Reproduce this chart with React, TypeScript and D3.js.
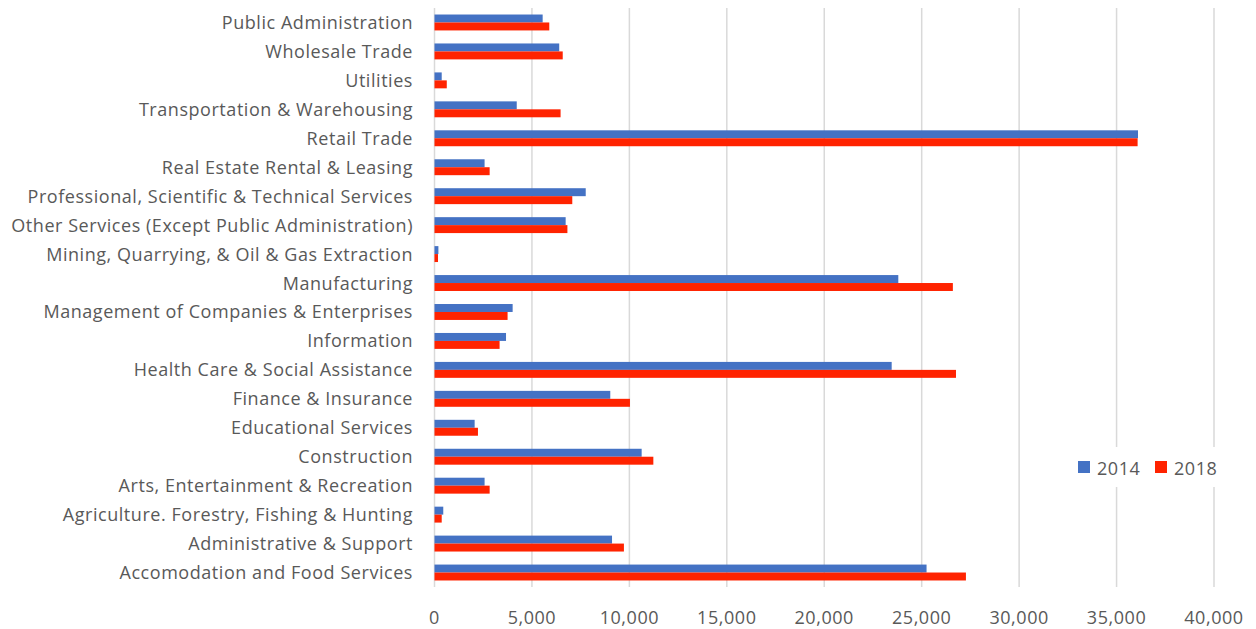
import React from "react";
import * as d3 from "d3";

const categories = [
  "Public Administration",
  "Wholesale Trade",
  "Utilities",
  "Transportation & Warehousing",
  "Retail Trade",
  "Real Estate Rental & Leasing",
  "Professional, Scientific & Technical Services",
  "Other Services (Except Public Administration)",
  "Mining, Quarrying, & Oil & Gas Extraction",
  "Manufacturing",
  "Management of Companies & Enterprises",
  "Information",
  "Health Care & Social Assistance",
  "Finance & Insurance",
  "Educational Services",
  "Construction",
  "Arts, Entertainment & Recreation",
  "Agriculture. Forestry, Fishing & Hunting",
  "Administrative & Support",
  "Accomodation and Food Services",
];

const values2014 = [
  5550, 6400, 370, 4220, 36100, 2570, 7760, 6730, 200, 23800, 4010, 3670, 23460,
  9020, 2060, 10630, 2570, 450, 9110, 25250,
];
const values2018 = [
  5890, 6580, 630, 6470, 36080, 2830, 7070, 6820, 180, 26600, 3750, 3340, 26760,
  10030, 2230, 11230, 2830, 370, 9720, 27270,
];

const seriesNames = ["2014", "2018"];
const seriesColors = ["#4472C4", "#FF2300"];
const xTicks = [0, 5000, 10000, 15000, 20000, 25000, 30000, 35000, 40000];

const W = 1256;
const H = 629;
const FONT = "'Open Sans', Lato, sans-serif";
const TEXT = "#595959";
const FS = 18;
const LS = 0.55;

export default function App() {
  const x = d3.scaleLinear().domain([0, 40000]).range([434.5, 1214]);
  const y = d3
    .scaleBand<string>()
    .domain(categories)
    .range([8, 587])
    .paddingInner(0.45)
    .paddingOuter(0.225);
  const inner = d3
    .scaleBand<string>()
    .domain(seriesNames)
    .range([0, y.bandwidth()]);
  const fmt = d3.format(",");
  const data = [values2014, values2018];

  return (
    <svg
      width={W}
      height={H}
      style={{ position: "absolute", left: 0, top: 0, background: "#fff" }}
    >
      <rect x={0} y={0} width={W} height={H} fill="#fff" />
      {xTicks.map((t) => (
        <line
          key={t}
          x1={x(t)}
          x2={x(t)}
          y1={8}
          y2={587}
          stroke="#d9d9d9"
          strokeWidth={1.5}
        />
      ))}
      {xTicks.map((t) => (
        <text
          key={"l" + t}
          x={x(t)}
          y={624}
          textAnchor="middle"
          fontFamily={FONT}
          fontSize={FS}
          letterSpacing={LS}
          fill={TEXT}
        >
          {fmt(t)}
        </text>
      ))}
      {categories.map((c) => (
        <text
          key={c}
          x={413}
          y={(y(c) as number) + y.bandwidth() / 2 + 6.5}
          textAnchor="end"
          fontFamily={FONT}
          fontSize={FS}
          letterSpacing={LS}
          fill={TEXT}
        >
          {c}
        </text>
      ))}
      {data.map((vals, si) =>
        categories.map((c, i) => (
          <rect
            key={si + "-" + c}
            x={x(0)}
            y={(y(c) as number) + (inner(seriesNames[si]) as number)}
            width={x(vals[i]) - x(0)}
            height={inner.bandwidth()}
            fill={seriesColors[si]}
          />
        ))
      )}
      <g>
        <rect x={1068} y={447} width={160} height={40} fill="#fff" />
        {seriesNames.map((s, i) => (
          <g key={s} transform={`translate(${1078 + i * 77},461)`}>
            <rect x={0} y={0} width={12} height={12} fill={seriesColors[i]} />
            <text
              x={19}
              y={14}
              fontFamily={FONT}
              fontSize={FS}
              letterSpacing={LS}
              fill={TEXT}
            >
              {s}
            </text>
          </g>
        ))}
      </g>
    </svg>
  );
}
